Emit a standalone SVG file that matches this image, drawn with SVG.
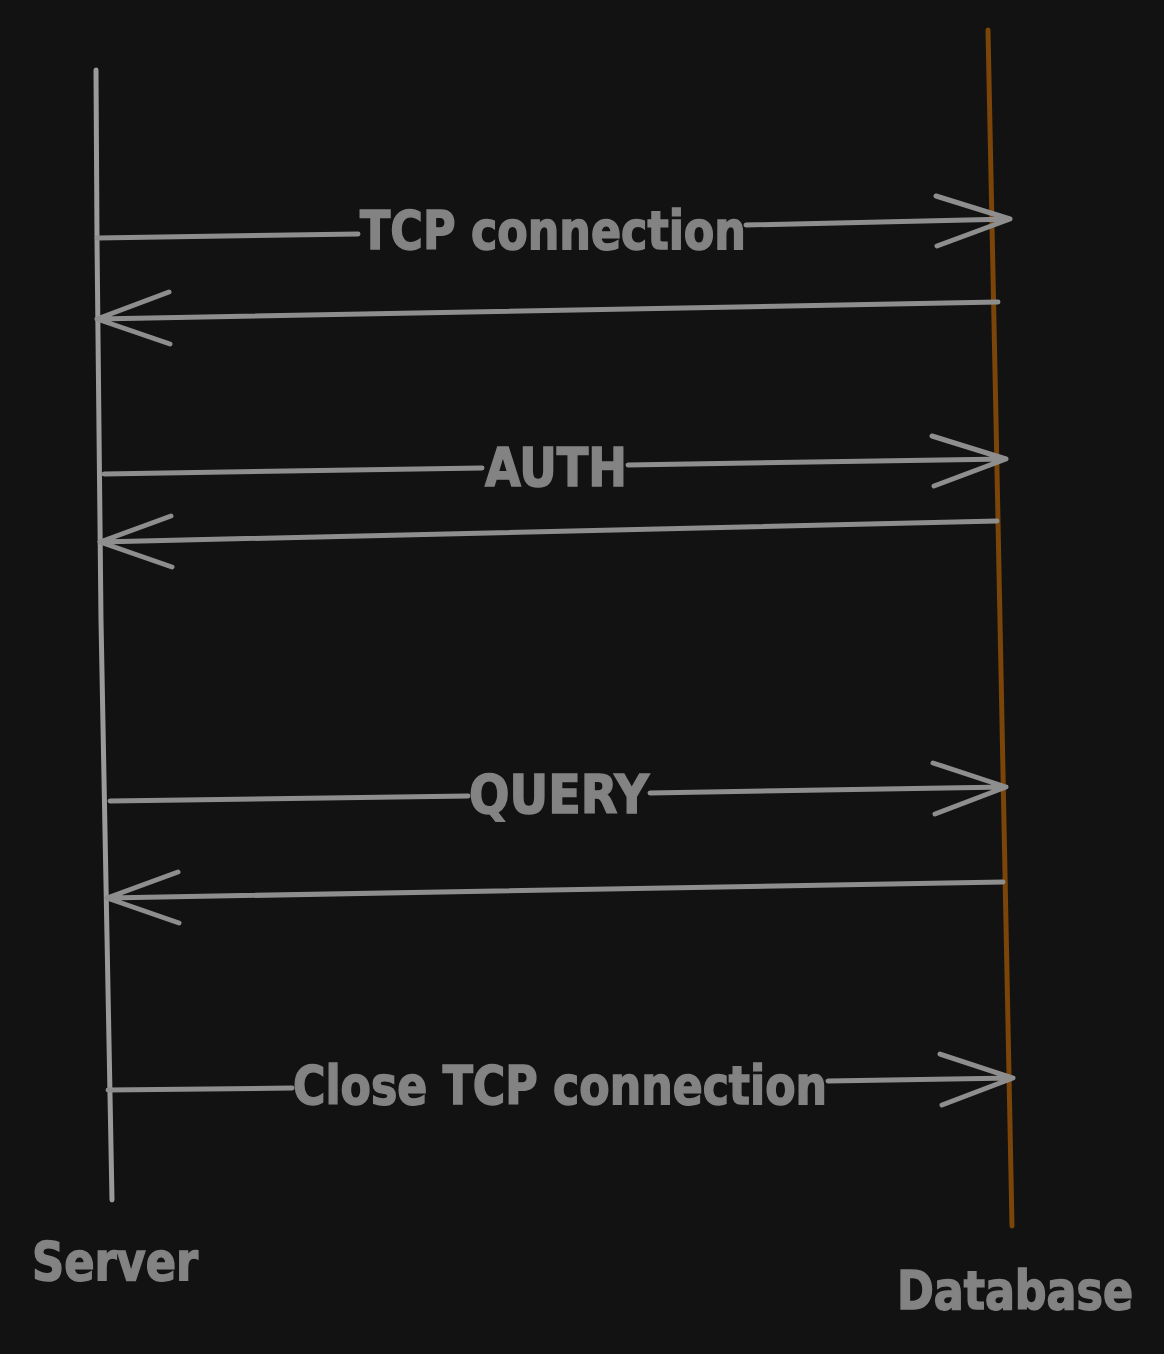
<svg xmlns="http://www.w3.org/2000/svg" width="1164" height="1354" viewBox="0 0 1164 1354">
<style>
.ln{fill:none;stroke:#8e8e8e;stroke-width:5;stroke-linecap:round;stroke-linejoin:round}
.life{fill:none;stroke:#9a9a9a;stroke-width:5;stroke-linecap:round}
.db{fill:none;stroke:#7b4408;stroke-width:5;stroke-linecap:round}
.t{font-family:"DejaVu Sans Condensed","DejaVu Sans",sans-serif;font-weight:bold;fill:#838383;stroke:#838383;stroke-width:1.5;font-size:54px;text-anchor:middle}
</style>
<rect width="1164" height="1354" fill="#121212"/>
<g id="server">
<path class="life" d="M96 70 L97 240 L101 620 L112 1200"/>
<text class="t" x="115" y="1280" textLength="166" lengthAdjust="spacingAndGlyphs">Server</text>
</g>
<g id="database">
<path class="db" d="M988 30 L996 420 L1012 1226"/>
<text class="t" x="1015" y="1309" textLength="236" lengthAdjust="spacingAndGlyphs">Database</text>
</g>
<g id="connectors">
<path class="ln" d="M97 238 L358 234 M746 225 L1010 219 M936 196 L1010 219 L937 246"/>
<path class="ln" d="M998 302 L97 319 M169 292 L97 319 L170 344"/>
<path class="ln" d="M104 474 L482 468 M628 465 L1006 459 M932 436 L1006 459 L934 486"/>
<path class="ln" d="M997 521 L100 542 M171 516 L100 542 L172 567"/>
<path class="ln" d="M110 801 L468 796 M650 793 L1006 787 M933 763 L1006 787 L935 814"/>
<path class="ln" d="M1003 882 L107 898 M178 872 L107 898 L179 923"/>
<path class="ln" d="M108 1090 L292 1088 M828 1081 L1013 1078 M940 1054 L1013 1078 L942 1105"/>
</g>
<g id="labels">
<text class="t" x="553" y="249" textLength="386" lengthAdjust="spacingAndGlyphs">TCP connection</text>
<text class="t" x="556" y="486" textLength="142" lengthAdjust="spacingAndGlyphs">AUTH</text>
<text class="t" x="559" y="813" textLength="180" lengthAdjust="spacingAndGlyphs">QUERY</text>
<text class="t" x="560" y="1104" textLength="534" lengthAdjust="spacingAndGlyphs">Close TCP connection</text>
</g>
</svg>
